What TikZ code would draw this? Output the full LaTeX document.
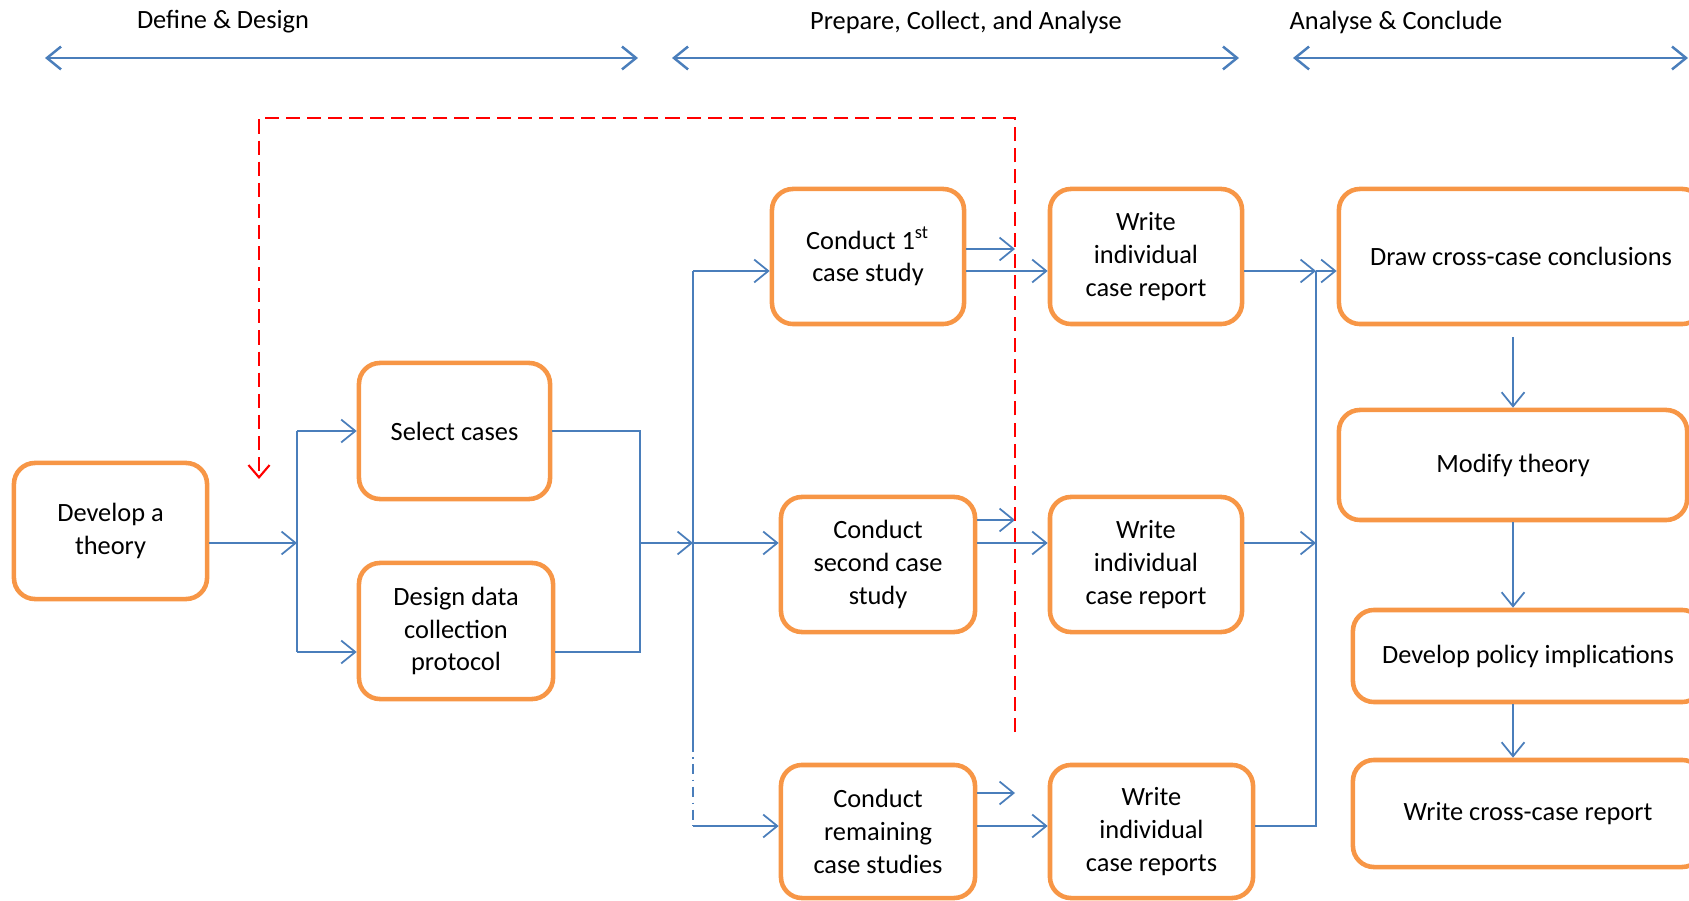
\documentclass[tikz,border=0pt]{standalone}
\usepackage{fontspec}
\setmainfont{Carlito}
\usetikzlibrary{arrows.meta}
\definecolor{boxorange}{HTML}{F79646}
\definecolor{linkblue}{HTML}{4A7EBB}

\begin{document}
\begin{tikzpicture}[x=0.01cm, y=-0.01cm,
    box/.style={draw=boxorange, line width=1.3pt, rounded corners=6pt, align=center,
      inner sep=0pt, font=\fontsize{7.5}{9.3}\selectfont},
    link/.style={draw=linkblue, line width=0.5pt},
    flow/.style={link, -{Straight Barb[length=4pt,width=6.5pt]}},
    span/.style={link, line width=0.7pt,
      {Straight Barb[length=4pt,width=6.5pt]}-{Straight Barb[length=4pt,width=6.5pt]}},
    dashlink/.style={link, dash pattern=on 3pt off 1.5pt on 0.5pt off 1.5pt},
    loopback/.style={draw=red, line width=0.6pt, dash pattern=on 4pt off 2pt,
      -{Straight Barb[length=3.5pt,width=6pt]}},
    phase/.style={font=\fontsize{7.5}{9.3}\selectfont}]
        \useasboundingbox (0,0) rectangle (1689,901);

        % phases
        \node[phase] (define) at (223,22) {Define \& Design};
        \node[phase] (prepare) at (966,22) {Prepare, Collect, and Analyse};
        \node[phase] (conclusion) at (1396,22) {Analyse \& Conclude};
        \coordinate (defineL) at (45,58);
        \coordinate (defineR) at (638,58);
        \coordinate (prepareL) at (672,58);
        \coordinate (prepareR) at (1239,58);
        \coordinate (conclusionL) at (1293,58);
        \coordinate (conclusionR) at (1688,58);
        \draw[span] (defineL) -- (defineR);
        \draw[span] (prepareL) -- (prepareR);
        \draw[span] (conclusionL) -- (conclusionR);

        % boxes
        \node[box, minimum width=1.93cm, minimum height=1.36cm] (theory) at (110.5,531) {Develop a\\theory};
        \node[box, minimum width=1.91cm, minimum height=1.36cm] (select) at (454.5,431) {Select cases};
        \node[box, minimum width=1.94cm, minimum height=1.36cm] (design) at (456,631) {Design data\\collection\\protocol};
        \node[box, minimum width=1.92cm, minimum height=1.35cm] (conduct1) at (868,256.5) {Conduct 1\textsuperscript{st}\\case study};
        \node[box, minimum width=1.94cm, minimum height=1.35cm] (conduct2) at (878,564.5) {Conduct\\second case\\study};
        \node[box, minimum width=1.94cm, minimum height=1.33cm] (conductr) at (878,831.5) {Conduct\\remaining\\case studies};
        \node[box, minimum width=1.92cm, minimum height=1.35cm] (report1) at (1146,256.5) {Write\\individual\\case report};
        \node[box, minimum width=1.92cm, minimum height=1.35cm] (report2) at (1146,564.5) {Write\\individual\\case report};
        \node[box, minimum width=2.03cm, minimum height=1.33cm] (reportr) at (1151.5,831.5) {Write\\individual\\case reports};
        \node[box, minimum width=3.64cm, minimum height=1.35cm] (conclude) at (1521,256.5) {Draw cross-case conclusions};
        \node[box, minimum width=3.48cm, minimum height=1.10cm] (modify) at (1513,465) {Modify theory};
        \node[box, minimum width=3.50cm, minimum height=0.92cm] (policy) at (1528,656) {Develop policy implications};
        \node[box, minimum width=3.50cm, minimum height=1.07cm] (crossreport) at (1528,813.5) {Write cross-case report};

        % junctions
        \coordinate (fork) at (297,543);
        \coordinate (forkTop) at (297,431);
        \coordinate (forkBot) at (297,652);
        \coordinate (join) at (640,543);
        \coordinate (joinTop) at (640,431);
        \coordinate (joinBot) at (640,652);
        \coordinate (busTop) at (693,271);
        \coordinate (busMid) at (693,543);
        \coordinate (busDash) at (693,741);
        \coordinate (busBot) at (693,826);
        \coordinate (stub1) at (1015,249);
        \coordinate (stub2) at (1015,520);
        \coordinate (stub3) at (1015,793);
        \coordinate (gather) at (1316,271);

        % define & design
        \draw[flow] (theory.east |- fork) -- (fork);
        \draw[link] (forkTop) -- (forkBot);
        \draw[flow] (forkTop) -- (select.west);
        \draw[flow] (forkBot) -- (design.west |- forkBot);
        \draw[link] (select.east) -- (joinTop) -- (joinBot) -- (design.east |- joinBot);
        \draw[flow] (join) -- (busMid);

        % case studies
        \draw[link] (busTop) -- (busDash);
        \draw[dashlink] (busDash) -- (busBot);
        \draw[flow] (busTop) -- (conduct1.west |- busTop);
        \draw[flow] (busMid) -- (conduct2.west |- busMid);
        \draw[flow] (busBot) -- (conductr.west |- busBot);
        \draw[flow] (conduct1.east |- stub1) -- (stub1);
        \draw[flow] (conduct2.east |- stub2) -- (stub2);
        \draw[flow] (conductr.east |- stub3) -- (stub3);
        \draw[flow] (conduct1.east |- busTop) -- (report1.west |- busTop);
        \draw[flow] (conduct2.east |- busMid) -- (report2.west |- busMid);
        \draw[flow] (conductr.east |- busBot) -- (reportr.west |- busBot);

        % reports
        \draw[flow] (report1.east |- gather) -- (gather);
        \draw[flow] (report2.east |- busMid) -- (gather |- busMid);
        \draw[link] (reportr.east |- busBot) -- (gather |- busBot) -- (gather);
        \draw[flow] (gather) -- (conclude.west |- gather);
        \draw[flow, shorten <=3pt] (conclude.south -| modify.south) -- (modify.north);
        \draw[flow] (modify.south) -- (modify.south |- policy.north);
        \draw[flow] (modify.south |- policy.south) -- (modify.south |- crossreport.north);

        % feedback loop
        \coordinate (loopStart) at (1015,732);
        \coordinate (loopRight) at (1015,118);
        \coordinate (loopLeft) at (259,118);
        \coordinate (loopEnd) at (259,479);
        \draw[loopback] (loopStart) -- (loopRight) -- (loopLeft) -- (loopEnd);
\end{tikzpicture}
\end{document}
